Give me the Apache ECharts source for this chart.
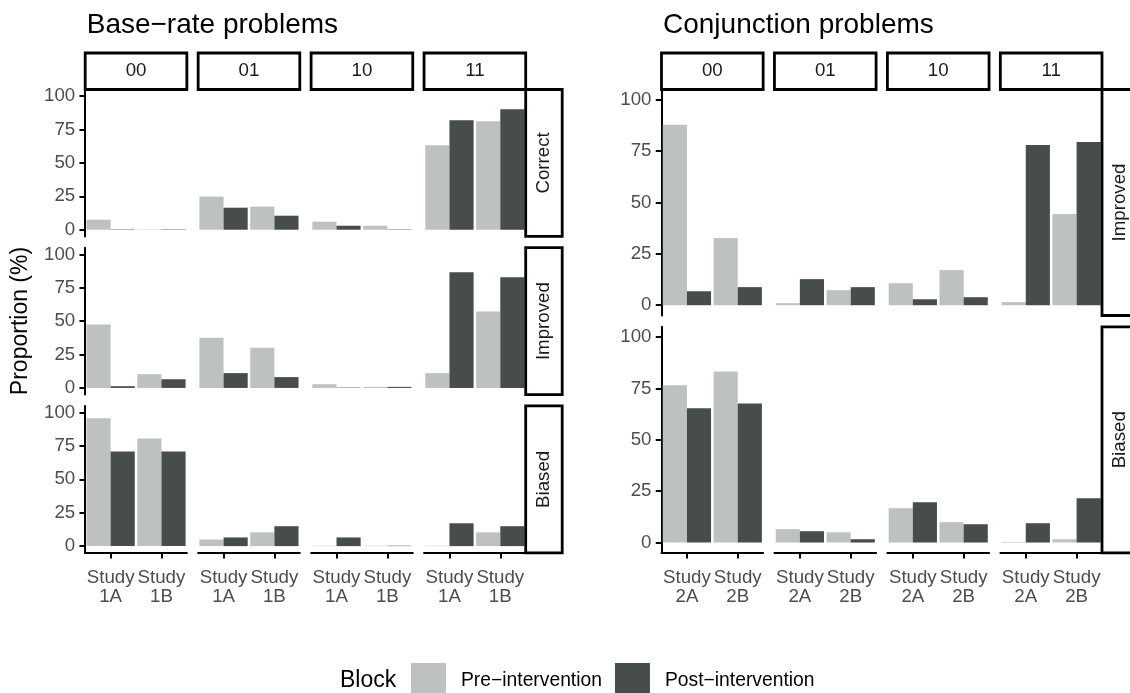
<!DOCTYPE html>
<html>
<head>
<meta charset="utf-8">
<script src="https://cdn.jsdelivr.net/npm/echarts@6/dist/echarts.min.js"></script>
<style>html,body{margin:0;padding:0;background:#fff;}#c{width:1130px;height:693px;}</style>
</head>
<body>
<div id="c"></div>
<script>
// ---- data ----
const facetCols = ['00', '01', '10', '11'];
const baseRows = ['Correct', 'Improved', 'Biased'];
const conjRows = ['Improved', 'Biased'];
const baseStudies = ['Study\n1A', 'Study\n1B'];
const conjStudies = ['Study\n2A', 'Study\n2B'];
const yTicks = [0, 25, 50, 75, 100];
const seriesNames = ['Pre\u2212intervention', 'Post\u2212intervention'];

// values ordered: 00-A, 00-B, 01-A, 01-B, 10-A, 10-B, 11-A, 11-B
const basePreCorrect   = [7.5, 0.3, 24.8, 17.3, 6.0, 3.0, 63.2, 81.2];
const basePostCorrect  = [0.3, 0.3, 16.5, 10.5, 3.0, 0.3, 82.0, 90.2];
const basePreImproved  = [47.4, 10.3, 37.5, 30.0, 2.8, 0.8, 11.1, 57.2];
const basePostImproved = [1.3, 6.5, 11.1, 8.1, 0.3, 0.8, 86.6, 82.9];
const basePreBiased    = [95.7, 80.6, 5.0, 10.3, 0.3, 0.3, 0.3, 10.3];
const basePostBiased   = [70.8, 70.8, 6.5, 14.9, 6.5, 0.3, 17.1, 14.9];

const conjPreImproved  = [87.8, 32.7, 1.0, 7.3, 10.7, 17.1, 1.5, 44.4];
const conjPostImproved = [6.8, 8.8, 12.7, 8.8, 2.9, 3.9, 78.0, 79.5];
const conjPreBiased    = [76.5, 83.3, 6.5, 5.0, 16.7, 9.9, 0.3, 1.6];
const conjPostBiased   = [65.3, 67.7, 5.5, 1.6, 19.6, 8.9, 9.4, 21.6];

// ---- layout / style ----
const FONT = '"Liberation Sans", Arial, Helvetica, sans-serif';
const PRE_COLOR = '#bec1c1', POST_COLOR = '#474c4c';
const PW = 101.65, GAP = 11.3, STRIP = 36.5, BORDER = 2.8;
const TICK_FS = 18.7;

const figures = [
  { title: 'Base\u2212rate problems', left: 85.2, top: 89.5, h: 146.9, rows: baseRows, studies: baseStudies,
    pre: [basePreCorrect, basePreImproved, basePreBiased], post: [basePostCorrect, basePostImproved, basePostBiased] },
  { title: 'Conjunction problems', left: 661.5, top: 89.5, h: 226, rows: conjRows, studies: conjStudies,
    pre: [conjPreImproved, conjPreBiased], post: [conjPostImproved, conjPostBiased] }
];

const grids = [], xAxes = [], yAxes = [], series = [], graphics = [];
let g = 0;
figures.forEach(fig => {
  graphics.push({ type: 'text', x: fig.left + 1.5, y: 25, style: { text: fig.title, font: '28px ' + FONT, fill: '#000', verticalAlign: 'middle', align: 'left' } });
  const figRight = fig.left + 4 * PW + 3 * GAP;
  fig.rows.forEach((rowName, r) => {
    const top = fig.top + r * (fig.h + GAP);
    const isBottom = r === fig.rows.length - 1;
    // right strip
    graphics.push({ type: 'rect', shape: { x: figRight, y: top, width: STRIP, height: fig.h }, style: { fill: '#fff', stroke: '#000', lineWidth: BORDER }, z: 10 });
    graphics.push({ type: 'text', x: figRight + STRIP / 2, y: top + fig.h / 2, rotation: Math.PI / 2, style: { text: rowName, font: TICK_FS + 'px ' + FONT, fill: '#1a1a1a', align: 'center', verticalAlign: 'middle' }, z: 11 });
    facetCols.forEach((colName, c) => {
      const left = fig.left + c * (PW + GAP);
      if (r === 0) {
        graphics.push({ type: 'rect', shape: { x: left, y: fig.top - STRIP, width: PW, height: STRIP }, style: { fill: '#fff', stroke: '#000', lineWidth: BORDER }, z: 10 });
        graphics.push({ type: 'text', x: left + PW / 2, y: fig.top - STRIP / 2, style: { text: colName, font: TICK_FS + 'px ' + FONT, fill: '#1a1a1a', align: 'center', verticalAlign: 'middle' }, z: 11 });
      }
      grids.push({ left: left, top: top, width: PW, height: fig.h, containLabel: false });
      xAxes.push({
        gridIndex: g, type: 'category', data: fig.studies,
        show: true,
        axisLine: { show: isBottom, onZero: false, lineStyle: { color: '#000', width: 2 } },
        axisTick: { show: isBottom, alignWithLabel: true, length: 5.75, lineStyle: { color: '#000', width: 2 } },
        axisLabel: { show: isBottom, fontSize: TICK_FS, fontFamily: FONT, color: '#4d4d4d', margin: 15, lineHeight: 19.5, interval: 0 },
        splitLine: { show: false }
      });
      yAxes.push({
        gridIndex: g, type: 'value', min: -5, max: 105,
        axisLine: { show: c === 0, lineStyle: { color: '#000', width: 2 } },
        axisTick: { show: c === 0, length: 5.75, lineStyle: { color: '#000', width: 2 }, customValues: yTicks },
        axisLabel: { show: c === 0, customValues: yTicks, fontSize: TICK_FS, fontFamily: FONT, color: '#4d4d4d', margin: 10 },
        splitLine: { show: false }
      });
      const preVals = fig.pre[r].slice(c * 2, c * 2 + 2);
      const postVals = fig.post[r].slice(c * 2, c * 2 + 2);
      series.push({ type: 'bar', name: seriesNames[0], xAxisIndex: g, yAxisIndex: g, data: preVals, itemStyle: { color: PRE_COLOR }, barGap: '0%', barCategoryGap: '5%', emphasis: { disabled: true } });
      series.push({ type: 'bar', name: seriesNames[1], xAxisIndex: g, yAxisIndex: g, data: postVals, itemStyle: { color: POST_COLOR }, barGap: '0%', barCategoryGap: '5%', emphasis: { disabled: true } });
      g++;
    });
  });
});

// y axis title
graphics.push({ type: 'text', x: 21, y: 321, rotation: Math.PI / 2, style: { text: 'Proportion (%)', font: '23px ' + FONT, fill: '#000', align: 'center', verticalAlign: 'middle' } });
// legend title
graphics.push({ type: 'text', x: 340, y: 681, style: { text: 'Block', font: '23px ' + FONT, fill: '#000', align: 'left', verticalAlign: 'middle' } });

const chart = echarts.init(document.getElementById('c'), null, { renderer: 'canvas' });
chart.setOption({
  animation: false,
  backgroundColor: '#fff',
  grid: grids,
  xAxis: xAxes,
  yAxis: yAxes,
  series: series,
  legend: {
    data: seriesNames, left: 411, top: 663, padding: 0, itemWidth: 35, itemHeight: 36, itemGap: 13, icon: 'rect',
    selectedMode: false,
    textStyle: { fontSize: 19.3, fontFamily: FONT, color: '#000', padding: [0, 0, 0, 10] }
  },
  graphic: graphics
});
</script>
</body>
</html>
